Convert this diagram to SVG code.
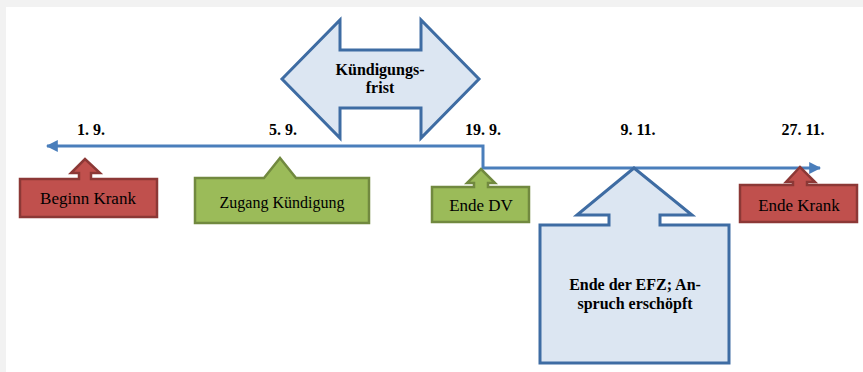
<svg xmlns="http://www.w3.org/2000/svg" width="863" height="372" viewBox="0 0 863 372">
<defs>
<style>
.t{fill:#000;text-anchor:middle}
.b{font-weight:bold;font-size:16px}
.red{fill:#c0504d;stroke:#8c3836;stroke-width:2.5;stroke-linejoin:miter}
.grn{fill:#9bbb59;stroke:#71893f;stroke-width:2.5;stroke-linejoin:miter}
.blu{fill:#dce6f2;stroke:#3e6ca3;stroke-width:3;stroke-linejoin:miter}
.ln{fill:none;stroke:#4a7ebb;stroke-width:3}
</style>
<marker id="ah" viewBox="0 0 10 10" refX="9" refY="5" markerWidth="4" markerHeight="4" orient="auto-start-reverse" markerUnits="strokeWidth">
<path d="M0,0 L10,5 L0,10 Z" fill="#4a7ebb"/>
</marker>
</defs>
<rect x="0" y="0" width="863" height="372" fill="#f2f2f2"/>
<rect x="6" y="7" width="857" height="365" fill="#ffffff"/>

<g font-family="'Times New Roman', 'Liberation Serif', serif">
<g id="dates">
<text class="t b" x="91" y="135">1. 9.</text>
<text class="t b" x="283" y="135">5. 9.</text>
<text class="t b" x="483" y="135">19. 9.</text>
<text class="t b" x="638" y="135">9. 11.</text>
<text class="t b" x="803" y="135">27. 11.</text>
</g>

<g id="connectors">
<path class="ln" d="M47,146 H483 V168 H820" marker-start="url(#ah)" marker-end="url(#ah)"/>
</g>

<g id="kuendigungsfrist">
<path class="blu" d="M282,79 L340,20 V50 H421 V20 L479,79 L421,138 V108 H340 V138 Z"/>
<text class="t b" x="380" y="75">Kündigungs-</text>
<text class="t b" x="380" y="93">frist</text>
</g>

<g id="beginn-krank">
<path class="red" d="M20,179 H79 V173 H71 L85,159 L100,173 H91 V179 H157 V217 H20 Z"/>
<text class="t" x="88" y="204" font-size="17">Beginn Krank</text>
</g>

<g id="zugang-kuendigung">
<path class="grn" d="M195,178 H264 L280,158 L296,178 H369 V223 H195 Z"/>
<text class="t" x="282" y="208" font-size="16">Zugang Kündigung</text>
</g>

<g id="ende-dv">
<path class="grn" d="M432,187 H474 V183 H467 L481,169 L495,183 H488 V187 H529 V222 H432 Z"/>
<text class="t" x="481" y="211" font-size="17">Ende DV</text>
</g>

<g id="ende-krank">
<path class="red" d="M740,185 H793 V182 H786 L800,167 L815,182 H807 V185 H857 V222 H740 Z"/>
<text class="t" x="799" y="211" font-size="17">Ende Krank</text>
</g>

<g id="ende-efz">
<path class="blu" d="M540,225 H609 V215 H577 L634,168 L692,215 H660 V225 H729 V363 H540 Z"/>
<text class="t b" x="635" y="290">Ende der EFZ; An-</text>
<text class="t b" x="635" y="309">spruch erschöpft</text>
</g>
</g>
</svg>
